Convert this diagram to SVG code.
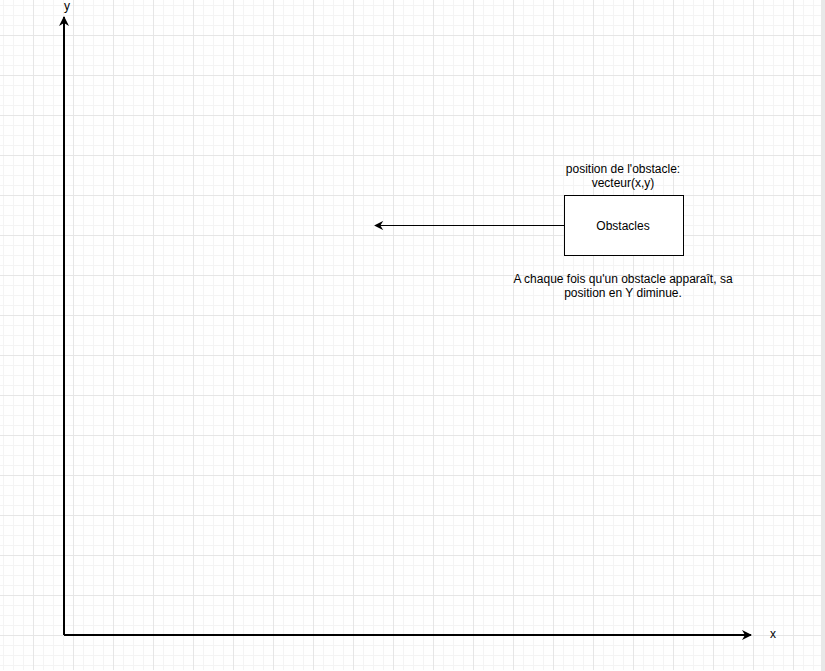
<svg xmlns="http://www.w3.org/2000/svg" width="825" height="671" viewBox="0 0 825 671">
  <style>
    .txt { font-family: "Liberation Sans", Arial, sans-serif; font-size: 12px; fill: #000; text-anchor: middle; }
    .axis { stroke: #000; stroke-width: 2; fill: none; }
    .edge { stroke: #000; stroke-width: 1; fill: none; }
    .box { fill: #fff; stroke: #000; stroke-width: 1; }
  </style>
  <defs>
    <pattern id="minor" x="3" y="5" width="10" height="10" patternUnits="userSpaceOnUse">
      <path d="M0.5 0 V10 M0 0.5 H10" stroke="#f4f4f4" stroke-width="1" fill="none"/>
    </pattern>
    <pattern id="major" x="33" y="35" width="40" height="40" patternUnits="userSpaceOnUse">
      <path d="M0.5 0 V40 M0 0.5 H40" stroke="#e6e6e6" stroke-width="1" fill="none"/>
    </pattern>
    <marker id="arrowBig" viewBox="0 0 10 10" refX="9" refY="5" markerWidth="5" markerHeight="5" markerUnits="strokeWidth" orient="auto">
      <path d="M0 0 L10 5 L0 10 L3 5 Z" fill="#000"/>
    </marker>
    <marker id="arrowSmall" viewBox="0 0 10 10" refX="9" refY="5" markerWidth="9" markerHeight="9" markerUnits="strokeWidth" orient="auto">
      <path d="M0 0 L10 5 L0 10 L3 5 Z" fill="#000"/>
    </marker>
  </defs>

  <!-- canvas background and grid -->
  <rect x="0" y="0" width="825" height="671" fill="#fff"/>
  <rect x="0" y="0" width="821" height="670" fill="url(#minor)"/>
  <rect x="0" y="0" width="821" height="670" fill="url(#major)"/>
  <rect x="821" y="0" width="4" height="671" fill="#e8e8e8"/>

  <!-- connectors -->
  <g id="connectors">
    <line class="axis" x1="64" y1="635" x2="64" y2="17" marker-end="url(#arrowBig)"/>
    <line class="axis" x1="64" y1="635" x2="751" y2="635" marker-end="url(#arrowBig)"/>
    <line class="edge" x1="564" y1="225.5" x2="375" y2="225.5" marker-end="url(#arrowSmall)"/>
  </g>

  <!-- axis labels -->
  <g id="label-y"><text class="txt" x="67" y="10">y</text></g>
  <g id="label-x"><text class="txt" x="773" y="638">x</text></g>

  <!-- obstacle node -->
  <g id="obstacles">
    <rect class="box" x="564.5" y="195.5" width="119" height="60"/>
    <text class="txt" x="623" y="230">Obstacles</text>
  </g>

  <g id="position-note">
    <text class="txt" x="623" y="173">position de l'obstacle:</text>
    <text class="txt" x="623" y="187">vecteur(x,y)</text>
  </g>

  <g id="behaviour-note">
    <text class="txt" x="623" y="283">A chaque fois qu'un obstacle apparaît, sa</text>
    <text class="txt" x="623" y="297">position en Y diminue.</text>
  </g>
</svg>
